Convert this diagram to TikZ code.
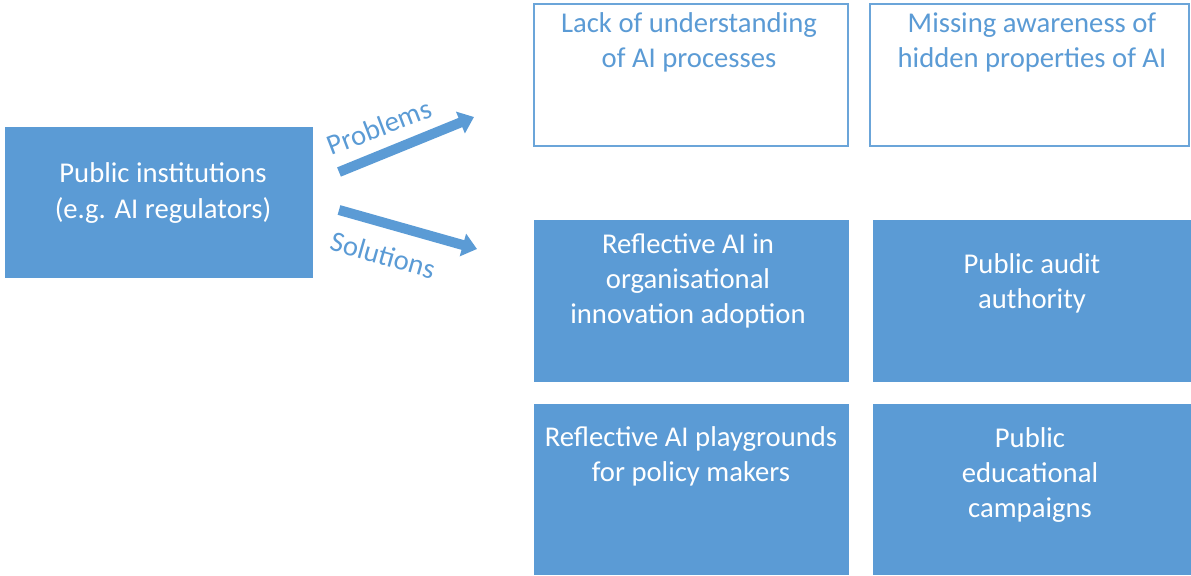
\documentclass[tikz,border=0pt]{standalone}
\usepackage{fontspec}
\setmainfont{Carlito}
\usepackage{tikz}
\usetikzlibrary{positioning, arrows.meta}
\definecolor{officeblue}{HTML}{5B9BD5}
\newcommand{\bluearrow}{-{Triangle[length=11pt,width=17pt]}}
\tikzset{
    fullbox/.style={draw=none, fill=officeblue, inner sep=0pt},
    emptybox/.style={draw=officeblue!90, line width=1.4pt, fill=white, inner sep=0pt},
    boxtext/.style={align=center, inner sep=0pt, font=\fontsize{21.5}{26.3}\selectfont},
    lbl/.style={text=officeblue, inner sep=0pt, font=\fontsize{21.5}{26.3}\selectfont}
}

\begin{document}
\begin{tikzpicture}[x=0.75pt, y=-0.75pt]
        \useasboundingbox (0,0) rectangle (1191,575);
        % left box
        \node[fullbox, minimum width=231pt, minimum height=113.3pt] (inst) at (159,202.5) {};
        \node[boxtext, text=white] (inst-txt) at (163,193) {Public institutions\\(e.g. AI regulators)};
        % problems
        \node[emptybox, minimum width=235.5pt, minimum height=106.5pt] (lack) at (691,75) {};
        \node[emptybox, minimum width=239pt, minimum height=106.5pt] (miss) at (1029.5,75) {};
        \node[boxtext, text=officeblue] (lack-txt) at (689,42.5) {Lack of understanding\\of AI processes};
        \node[boxtext, text=officeblue] (miss-txt) at (1032,42.5) {Missing awareness of\\hidden properties of AI};
        % solutions
        \node[fullbox, minimum width=236pt, minimum height=121.5pt] (refl) at (691.5,301) {};
        \node[fullbox, minimum width=238.5pt, minimum height=121.5pt] (audit) at (1032,301) {};
        \node[fullbox, minimum width=236pt, minimum height=128pt] (play) at (691.5,489.5) {};
        \node[fullbox, minimum width=238.5pt, minimum height=128pt] (camp) at (1032,489.5) {};
        \node[boxtext, text=white] (refl-txt) at (688,281) {Reflective AI in\\organisational\\innovation adoption};
        \node[boxtext, text=white] (audit-txt) at (1032,283) {Public audit\\authority};
        \node[boxtext, text=white] (play-txt) at (691,456) {Reflective AI playgrounds\\for policy makers};
        \node[boxtext, text=white] (camp-txt) at (1030,475) {Public\\educational\\campaigns};
        % arrows
        \coordinate (prob-from) at (339,172);
        \coordinate (prob-to) at (474,117);
        \coordinate (sol-from) at (339,210);
        \coordinate (sol-to) at (477,249);
        \draw[\bluearrow, officeblue, line width=7.5pt] (prob-from) -- (prob-to);
        \draw[\bluearrow, officeblue, line width=7.5pt] (sol-from) -- (sol-to);
        \node[lbl, rotate=21] (prob-lbl) at (379,127) {Problems};
        \node[lbl, rotate=-16] (sol-lbl) at (383,255) {Solutions};
    \end{tikzpicture}
\end{document}
